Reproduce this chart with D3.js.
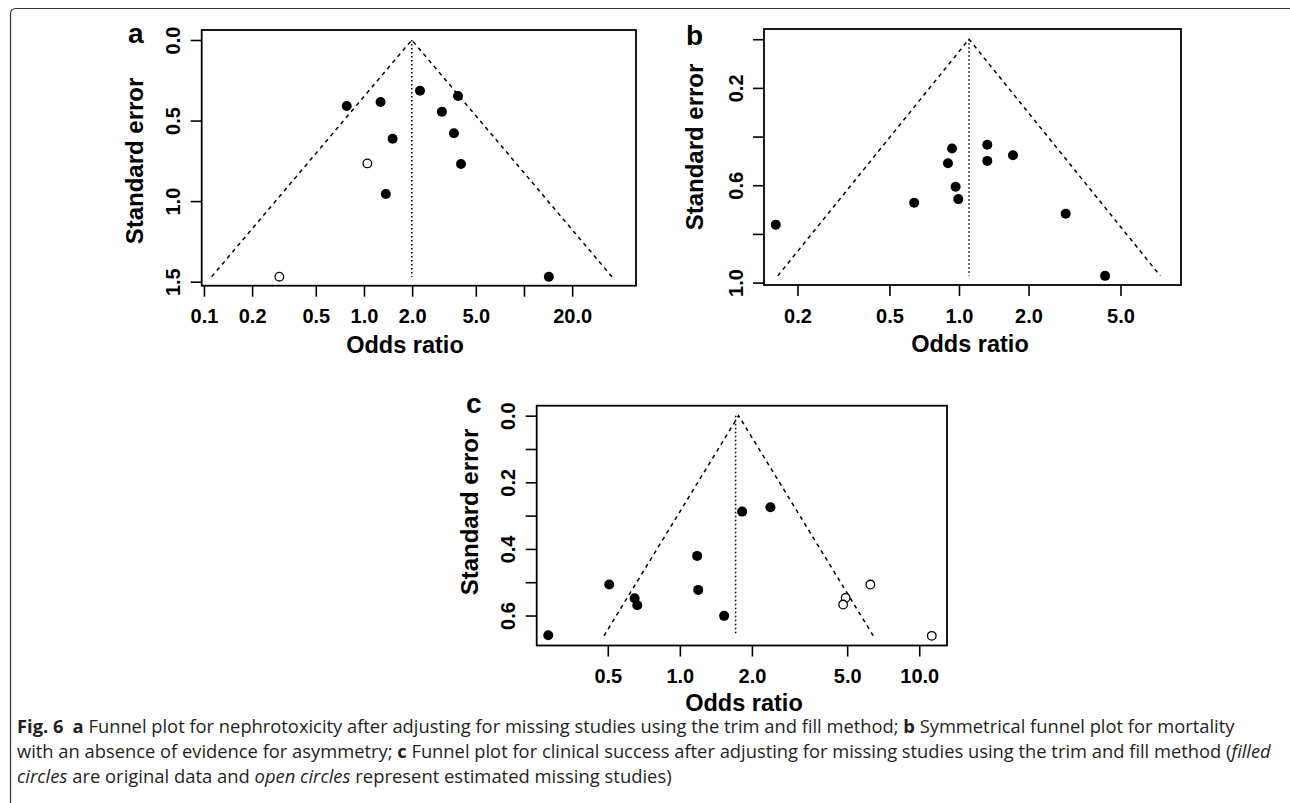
<!DOCTYPE html>
<html>
<head>
<meta charset="utf-8">
<script src="https://cdn.jsdelivr.net/npm/d3@7"></script>
<style>
  html, body { margin: 0; padding: 0; background: #fff; }
  svg { display: block; }
  .plot text { font-family: "Liberation Sans", Arial, Helvetica, sans-serif; font-weight: bold; fill: #000; }
  .cap { font-family: "Liberation Sans Narrow", "Open Sans", "Noto Sans", sans-serif; fill: #231f20; font-size: 18px; }
</style>
</head>
<body>
<svg id="fig" width="1290" height="803"></svg>
<script>
// ---------- DATA ----------
// Panel a: nephrotoxicity (trim and fill)
const aFilledOR = [0.78, 1.27, 2.24, 3.87, 3.07, 1.51, 3.65, 4.04, 1.37, 14.3];
const aFilledSE = [0.41, 0.385, 0.315, 0.348, 0.445, 0.613, 0.579, 0.77, 0.956, 1.469];
const aOpenOR = [1.05, 0.296];
const aOpenSE = [0.766, 1.469];
const aCenter = 1.99;
const aRefLine = 1.99;
const aXTicks = [0.1, 0.2, 0.5, 1, 2, 5, 10, 20];
const aXLabels = ["0.1", "0.2", "0.5", "1.0", "2.0", "5.0", "", "20.0"];
const aYTicks = [0, 0.5, 1.0, 1.5];
const aYLabels = ["0.0", "0.5", "1.0", "1.5"];

// Panel b: mortality
const bFilledOR = [0.161, 0.64, 0.933, 0.896, 0.967, 0.993, 1.326, 1.326, 1.713, 2.897, 4.29];
const bFilledSE = [0.762, 0.672, 0.449, 0.51, 0.606, 0.657, 0.434, 0.50, 0.477, 0.717, 0.9725];
const bOpenOR = [];
const bOpenSE = [];
const bCenter = 1.105;
const bRefLine = 1.105;
const bXTicks = [0.2, 0.5, 1, 2, 5];
const bXLabels = ["0.2", "0.5", "1.0", "2.0", "5.0"];
const bYTicks = [0, 0.2, 0.4, 0.6, 0.8, 1.0];
const bYLabels = ["", "0.2", "", "0.6", "", "1.0"];

// Panel c: clinical success (trim and fill)
const cFilledOR = [0.282, 0.507, 0.647, 0.664, 1.181, 1.193, 1.531, 1.82, 2.39];
const cFilledSE = [0.659, 0.507, 0.548, 0.569, 0.421, 0.523, 0.601, 0.288, 0.275];
const cOpenOR = [6.25, 4.93, 4.81, 11.28];
const cOpenSE = [0.507, 0.547, 0.567, 0.661];
const cCenter = 1.76;
const cRefLine = 1.71;
const cXTicks = [0.5, 1, 2, 5, 10];
const cXLabels = ["0.5", "1.0", "2.0", "5.0", "10.0"];
const cYTicks = [0, 0.1, 0.2, 0.3, 0.4, 0.5, 0.6];
const cYLabels = ["0.0", "", "0.2", "", "0.4", "", "0.6"];

const panelLetters = ["a", "b", "c"];
const xTitle = "Odds ratio";
const yTitle = "Standard error";

// ---------- LAYOUT ----------
const svg = d3.select("#fig");

// outer frame with rounded top-left corner
svg.append("path")
  .attr("d", "M10.5,803 L10.5,14 Q10.5,8.5 16,8.5 L1290,8.5")
  .attr("fill", "none").attr("stroke", "#333").attr("stroke-width", 1.2);

const panels = [
  { letter: panelLetters[0], fOR: aFilledOR, fSE: aFilledSE, oOR: aOpenOR, oSE: aOpenSE,
    center: aCenter, ref: aRefLine, xT: aXTicks, xL: aXLabels, yT: aYTicks, yL: aYLabels,
    xDom: [Math.pow(10, -1.014), Math.pow(10, 1.70)], xR: [201.7, 636],
    yDom: [-0.062, 1.525], yR: [30, 285.7],
    letterPos: [128, 43], yTitlePos: [142.5, 161], xTitlePos: [405, 353] },
  { letter: panelLetters[1], fOR: bFilledOR, fSE: bFilledSE, oOR: bOpenOR, oSE: bOpenSE,
    center: bCenter, ref: bRefLine, xT: bXTicks, xL: bXLabels, yT: bYTicks, yL: bYLabels,
    xDom: [Math.pow(10, -0.844), Math.pow(10, 0.961)], xR: [764, 1181],
    yDom: [-0.042, 1.01], yR: [29, 285],
    letterPos: [686, 45], yTitlePos: [703, 147], xTitlePos: [970, 352] },
  { letter: panelLetters[2], fOR: cFilledOR, fSE: cFilledSE, oOR: cOpenOR, oSE: cOpenSE,
    center: cCenter, ref: cRefLine, xT: cXTicks, xL: cXLabels, yT: cYTicks, yL: cYLabels,
    xDom: [Math.pow(10, -0.598), Math.pow(10, 1.116)], xR: [536.7, 947],
    yDom: [-0.03, 0.69], yR: [405.7, 645.5],
    letterPos: [466, 413], yTitlePos: [477.5, 512], xTitlePos: [744, 711] }
];

panels.forEach(p => {
  const g = svg.append("g").attr("class", "plot");
  const x = d3.scaleLog().domain(p.xDom).range(p.xR);
  const y = d3.scaleLinear().domain(p.yDom).range(p.yR);
  const seMax = d3.max(p.fSE.concat(p.oSE));

  // funnel (dashed)
  const funnel = [
    [p.center * Math.exp(-1.96 * seMax), seMax],
    [p.center, 0],
    [p.center * Math.exp(1.96 * seMax), seMax]
  ];
  g.append("path")
    .attr("d", d3.line().x(d => x(d[0])).y(d => y(d[1]))(funnel))
    .attr("fill", "none").attr("stroke", "#000").attr("stroke-width", 1.5)
    .attr("stroke-dasharray", "4,4");

  // reference line (dotted)
  g.append("line")
    .attr("x1", x(p.ref)).attr("x2", x(p.ref))
    .attr("y1", y(0)).attr("y2", y(seMax))
    .attr("stroke", "#000").attr("stroke-width", 1.5)
    .attr("stroke-dasharray", "1.5,2.5");

  // filled points
  g.selectAll("circle.f").data(p.fOR.map((v, i) => [v, p.fSE[i]])).enter()
    .append("circle").attr("class", "f")
    .attr("cx", d => x(d[0])).attr("cy", d => y(d[1])).attr("r", 5)
    .attr("fill", "#000");

  // open points
  g.selectAll("circle.o").data(p.oOR.map((v, i) => [v, p.oSE[i]])).enter()
    .append("circle").attr("class", "o")
    .attr("cx", d => x(d[0])).attr("cy", d => y(d[1])).attr("r", 4.3)
    .attr("fill", "#fff").attr("stroke", "#000").attr("stroke-width", 1.3);

  // box
  g.append("rect")
    .attr("x", p.xR[0]).attr("y", p.yR[0])
    .attr("width", p.xR[1] - p.xR[0]).attr("height", p.yR[1] - p.yR[0])
    .attr("fill", "none").attr("stroke", "#000").attr("stroke-width", 1.8);

  // x axis
  const xa = g.append("g").attr("transform", `translate(0,${p.yR[1]})`)
    .call(d3.axisBottom(x).tickValues(p.xT).tickFormat((d, i) => p.xL[i])
      .tickSize(11).tickPadding(12.3));
  xa.select(".domain").remove();
  xa.selectAll("line").attr("stroke", "#000").attr("stroke-width", 1.6);
  xa.selectAll("text").attr("font-size", 20).attr("font-family", null);

  // y axis
  const ya = g.append("g").attr("transform", `translate(${p.xR[0]},0)`)
    .call(d3.axisLeft(y).tickValues(p.yT).tickFormat((d, i) => p.yL[i]).tickSize(11));
  ya.select(".domain").remove();
  ya.selectAll("line").attr("stroke", "#000").attr("stroke-width", 1.6);
  ya.selectAll("text")
    .attr("font-size", 20).attr("font-family", null)
    .attr("x", 0).attr("y", -21.5).attr("dy", null)
    .attr("text-anchor", "middle")
    .attr("transform", "rotate(-90)");

  // titles
  g.append("text").attr("x", p.xTitlePos[0]).attr("y", p.xTitlePos[1])
    .attr("text-anchor", "middle").attr("font-size", 23.5).text(xTitle);
  g.append("text")
    .attr("transform", `translate(${p.yTitlePos[0]},${p.yTitlePos[1]}) rotate(-90)`)
    .attr("text-anchor", "middle").attr("font-size", 24).text(yTitle);

  // panel letter
  g.append("text").attr("x", p.letterPos[0]).attr("y", p.letterPos[1])
    .attr("font-size", 28).text(p.letter);
});

// ---------- CAPTION ----------
const capLines = [
  { y: 733, width: 1218, parts: [
      { t: "Fig. 6", w: "bold" }, { t: "\u2002" },
      { t: "a", w: "bold" }, { t: " Funnel plot for nephrotoxicity after adjusting for missing studies using the trim and fill method; " },
      { t: "b", w: "bold" }, { t: " Symmetrical funnel plot for mortality" } ] },
  { y: 758, width: 1255, parts: [
      { t: "with an absence of evidence for asymmetry; " },
      { t: "c", w: "bold" }, { t: " Funnel plot for clinical success after adjusting for missing studies using the trim and fill method (" },
      { t: "filled", s: "italic" } ] },
  { y: 783, width: 655, parts: [
      { t: "circles", s: "italic" }, { t: " are original data and " },
      { t: "open circles", s: "italic" }, { t: " represent estimated missing studies)" } ] }
];

capLines.forEach(line => {
  const t = svg.append("text").attr("class", "cap").attr("x", 0).attr("y", 0)
    .attr("xml:space", "preserve");
  line.parts.forEach(pt => {
    t.append("tspan")
      .attr("font-weight", pt.w || "normal")
      .attr("font-style", pt.s || "normal")
      .text(pt.t);
  });
  const w = t.node().getComputedTextLength();
  const sx = line.width / w;
  t.attr("transform", `translate(17,${line.y}) scale(${sx},1)`);
});
</script>
</body>
</html>
